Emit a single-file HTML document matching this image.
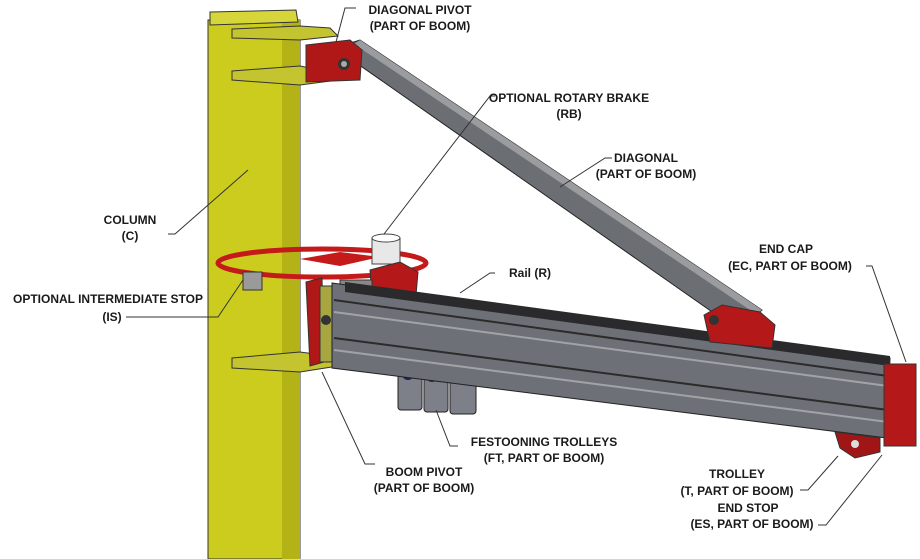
<!DOCTYPE html>
<html><head><style>
html,body{margin:0;padding:0;background:#fff;width:920px;height:559px;overflow:hidden}
svg text{font-family:"Liberation Sans",sans-serif;font-weight:bold;font-size:12px;fill:#1a1a1a}
</style></head><body>
<svg width="920" height="559" viewBox="0 0 920 559" xmlns="http://www.w3.org/2000/svg">
<rect x="208" y="20" width="92" height="539" fill="#cccc1e" stroke="#333" stroke-width="1"/>
<rect x="282" y="20" width="18" height="539" fill="#b3b318"/>
<polygon points="210,12 296,10 298,22 210,25" fill="#d6d63a" stroke="#333"/>
<polygon points="232,29 300,26 330,28 338,36 300,40 232,38" fill="#c4c430" stroke="#333"/>
<polygon points="232,71 300,66 330,72 338,80 300,85 232,80" fill="#c4c430" stroke="#333"/>
<polygon points="335,48 360,40 762,310 738,330" fill="#6b6e73" stroke="#222"/>
<polygon points="360,40 762,310 756,314 354,44" fill="#9a9ca0"/>
<polygon points="306,45 350,40 362,50 360,80 306,82" fill="#b01818" stroke="#333"/>
<circle cx="344" cy="64" r="6" fill="#333"/><circle cx="344" cy="64" r="3" fill="#aaa"/>
<ellipse cx="322" cy="263" rx="104" ry="14" fill="none" stroke="#c41a1a" stroke-width="5"/>
<polygon points="300,259 340,252 380,257 340,266" fill="#c41a1a"/>
<rect x="243" y="272" width="19" height="18" fill="#9a9a9a" stroke="#333"/>
<rect x="372" y="238" width="28" height="26" fill="#e8e8e8" stroke="#444"/>
<ellipse cx="386" cy="238" rx="14" ry="4" fill="#fff" stroke="#444"/>
<polygon points="370,270 400,262 418,272 416,295 372,298" fill="#b51818" stroke="#333"/>
<rect x="340" y="280" width="32" height="18" fill="#888" stroke="#333"/>
<polygon points="232,358 300,352 330,356 338,366 300,372 232,368" fill="#c4c430" stroke="#333"/>
<polygon points="306,282 322,278 324,362 310,366" fill="#b01818" stroke="#333"/>
<rect x="320" y="286" width="14" height="76" fill="#a8a640" stroke="#333"/>
<circle cx="326" cy="320" r="5" fill="#333"/>
<g fill="#7d8088" stroke="#222">
<rect x="398" y="366" width="24" height="44" rx="3"/><rect x="424" y="368" width="24" height="44" rx="3"/><rect x="450" y="370" width="26" height="44" rx="3"/>
</g>
<circle cx="408" cy="374" r="6" fill="#1e2450"/><circle cx="432" cy="376" r="6" fill="#1e2450"/><circle cx="458" cy="378" r="6" fill="#1e2450"/>
<polygon points="332,283 890,358 887,438 332,368" fill="#6d7076" stroke="#222"/>
<polygon points="345,282 890,356 890,366 345,292" fill="#2a2a2c"/>
<line x1="334" y1="300" x2="888" y2="376" stroke="#2b2b2b" stroke-width="2"/>
<line x1="334" y1="312" x2="888" y2="386" stroke="#a0a3a8" stroke-width="2"/>
<line x1="334" y1="338" x2="888" y2="410" stroke="#2b2b2b" stroke-width="2"/>
<line x1="334" y1="350" x2="888" y2="422" stroke="#a0a3a8" stroke-width="2"/>
<polygon points="704,315 722,305 760,312 775,325 772,348 710,342" fill="#b51818" stroke="#333"/>
<circle cx="714" cy="320" r="5" fill="#333"/>
<polygon points="835,432 880,438 880,452 855,458 840,448" fill="#a01616" stroke="#333"/>
<circle cx="855" cy="444" r="4" fill="#ddd"/>
<rect x="884" y="364" width="32" height="82" fill="#b51818" stroke="#333"/>
<g stroke="#333" stroke-width="1" fill="none">
<path d="M356,8 L345,8 L336,42"/>
<path d="M495,96 L490,96 L384,234"/>
<path d="M612,158 L605,158 L560,187"/>
<path d="M168,234 L175,234 L248,170"/>
<path d="M495,273 L490,273 L460,293"/>
<path d="M126,317 L218,317 L243,280"/>
<path d="M866,266 L872,266 L906,362"/>
<path d="M458,446 L450,446 L436,410"/>
<path d="M375,464 L365,464 L322,372"/>
<path d="M800,490 L808,490 L838,456"/>
<path d="M818,525 L826,525 L882,455"/>
</g>
<text x="420" y="14" text-anchor="middle">DIAGONAL PIVOT</text>
<text x="420" y="30" text-anchor="middle">(PART OF BOOM)</text>
<text x="569" y="102" text-anchor="middle">OPTIONAL ROTARY BRAKE</text>
<text x="569" y="118" text-anchor="middle">(RB)</text>
<text x="646" y="162" text-anchor="middle">DIAGONAL</text>
<text x="646" y="178" text-anchor="middle">(PART OF BOOM)</text>
<text x="130" y="224" text-anchor="middle">COLUMN</text>
<text x="130" y="240" text-anchor="middle">(C)</text>
<text x="530" y="277" text-anchor="middle">Rail (R)</text>
<text x="786" y="253" text-anchor="middle">END CAP</text>
<text x="790" y="270" text-anchor="middle">(EC, PART OF BOOM)</text>
<text x="108" y="303" text-anchor="middle">OPTIONAL INTERMEDIATE STOP</text>
<text x="112" y="321" text-anchor="middle">(IS)</text>
<text x="544" y="446" text-anchor="middle">FESTOONING TROLLEYS</text>
<text x="544" y="462" text-anchor="middle">(FT, PART OF BOOM)</text>
<text x="424" y="476" text-anchor="middle">BOOM PIVOT</text>
<text x="424" y="492" text-anchor="middle">(PART OF BOOM)</text>
<text x="737" y="478" text-anchor="middle">TROLLEY</text>
<text x="737" y="495" text-anchor="middle">(T, PART OF BOOM)</text>
<text x="748" y="512" text-anchor="middle">END STOP</text>
<text x="752" y="528" text-anchor="middle">(ES, PART OF BOOM)</text>
</svg>
</body></html>
